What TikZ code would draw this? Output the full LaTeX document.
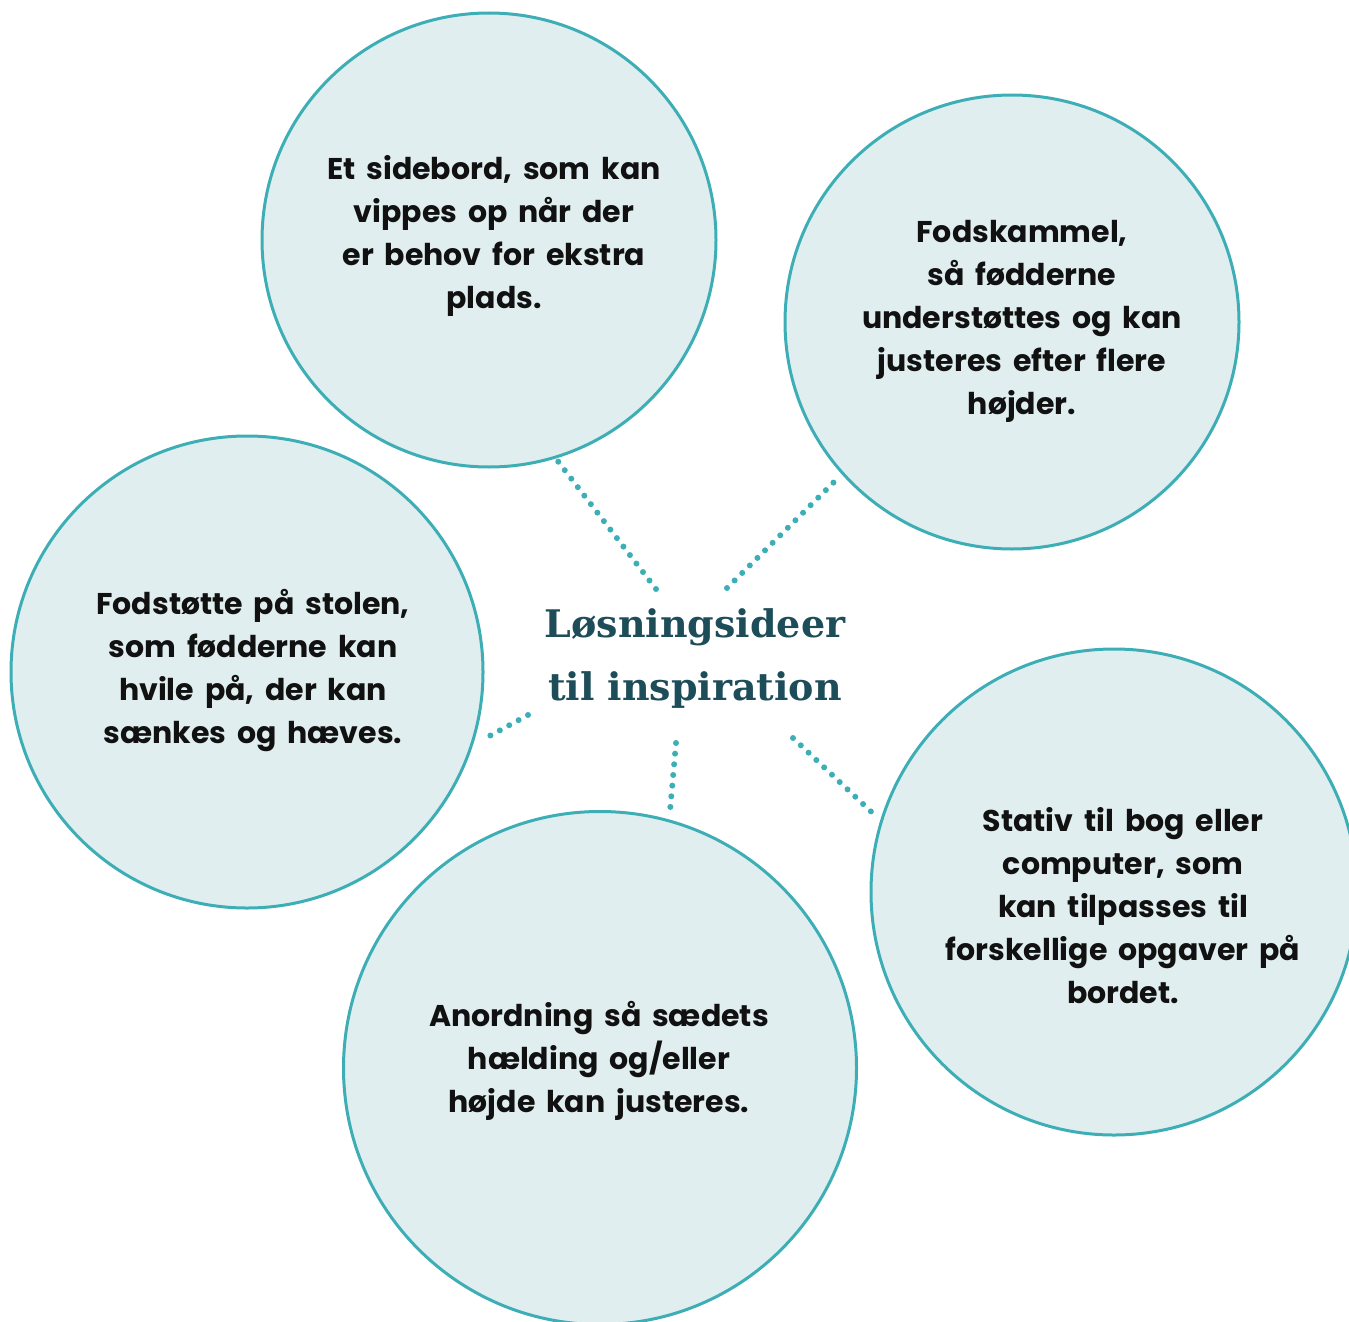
\documentclass[tikz,border=0pt]{standalone}
\usepackage{fontspec}
\setmainfont{Poppins}[WordSpace=1.7]
\newfontfamily\titlefont{DejaVu Serif}
\usetikzlibrary{calc}
\definecolor{ringline}{HTML}{3DAEB5}
\definecolor{ringfill}{HTML}{E0EEEF}
\definecolor{titleteal}{HTML}{1E4D5A}
\definecolor{bodyblack}{HTML}{111111}
\tikzset{
  idea/.style={circle, draw=ringline, line width=3pt, fill=ringfill, inner sep=0pt, minimum size=#1},
  ideatext/.style={align=center, text=bodyblack, font=\bfseries\fontsize{30}{43}\selectfont},
  dotline/.style={draw=ringline, line width=6pt, line cap=round, dash pattern=on 0pt off 10.7pt}
}

\begin{document}
\begin{tikzpicture}[x=1pt, y=-1pt]
			%%%%% START %%%%%
			\useasboundingbox (0, 0) rectangle (1349, 1322);
			
			\node[idea=454pt] (sidebord) at (489, 240) {};
			\node[idea=454pt] (skammel) at (1012, 322) {};
			\node[idea=472pt] (fodstotte) at (247, 672) {};
			\node[idea=513pt] (anordning) at (600, 1068) {};
			\node[idea=486pt] (stativ) at (1114, 892) {};
			
			\node[ideatext] (sidebordtxt) at (494, 236) {Et sidebord, som kan\\vippes op når der\\er behov for ekstra\\plads.};
			\node[ideatext] (skammeltxt) at (1022, 321) {Fodskammel,\\så fødderne\\understøttes og kan\\justeres efter flere\\højder.};
			\node[ideatext] (fodstottetxt) at (253, 671) {Fodstøtte på stolen,\\som fødderne kan\\hvile på, der kan\\sænkes og hæves.};
			\node[ideatext] (anordningtxt) at (599, 1061) {Anordning så sædets\\hælding og/eller\\højde kan justeres.};
			\node[ideatext] (stativtxt) at (1123, 906) {Stativ til bog eller\\computer, som\\kan tilpasses til\\forskellige opgaver på\\bordet.};
			
			\node[align=center, text=titleteal, font=\titlefont\bfseries\fontsize{38}{63}\selectfont] (titel) at (695, 659) {Løsningsideer\\til inspiration};
			
			\coordinate (t1) at (656, 589);
			\coordinate (t2) at (727, 588);
			\coordinate (t3) at (528, 715);
			\coordinate (t4) at (676, 743);
			\coordinate (t5) at (793, 738);
			
			\draw[dotline] (t1) -- (sidebord.-73);
			\draw[dotline] (t2) -- ($(skammel.-138)+(-4, 3)$);
			\draw[dotline] (t3) -- ($(fodstotte.-16)+(6, 3)$);
			\draw[dotline] (t4) -- ($(anordning.75)+(3, -5)$);
			\draw[dotline] (t5) -- ($(stativ.163)+(-6, -6)$);
			
			%%%%% END %%%%%
\end{tikzpicture}
\end{document}
